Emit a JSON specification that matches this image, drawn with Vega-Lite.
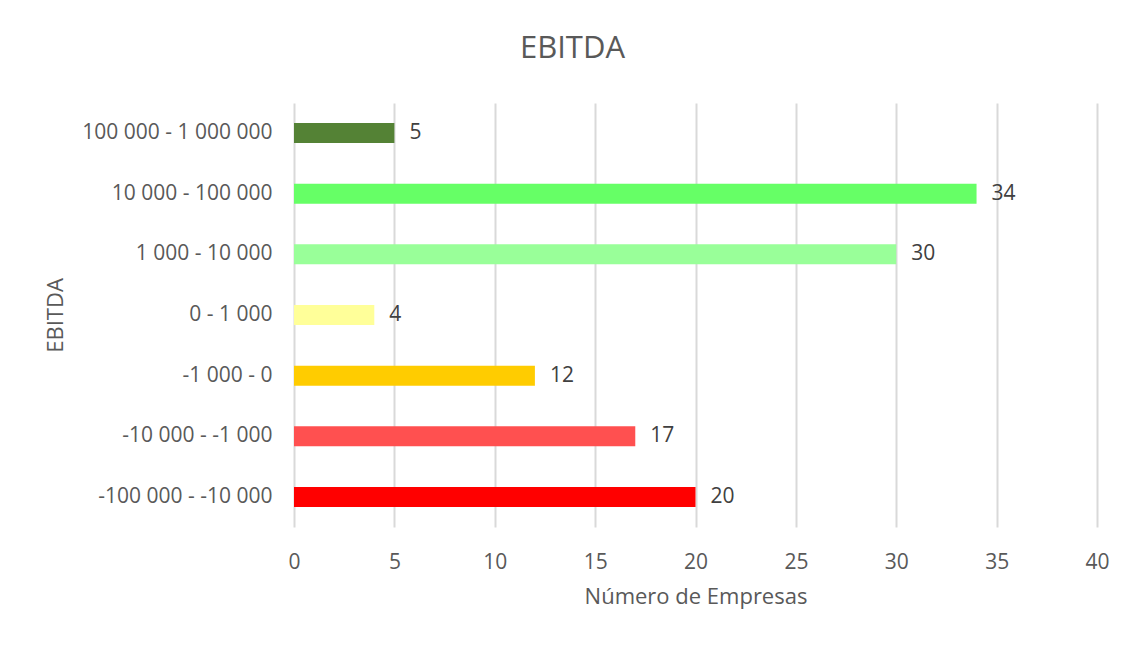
{
  "$schema": "https://vega.github.io/schema/vega-lite/v6.json",
  "width": 803,
  "height": 424,
  "autosize": {"type": "none"},
  "padding": {"left": 294, "top": 103, "right": 42, "bottom": 118},
  "background": "white",
  "title": {
    "text": "EBITDA",
    "fontSize": 31,
    "font": "Open Sans",
    "fontWeight": "normal",
    "color": "#595959",
    "anchor": "middle",
    "dx": -123,
    "offset": 38
  },
  "data": {
    "values": [
      {"range": "100 000 - 1 000 000", "count": 5, "color": "#548235"},
      {"range": "10 000 - 100 000", "count": 34, "color": "#66FF66"},
      {"range": "1 000 - 10 000", "count": 30, "color": "#99FF99"},
      {"range": "0 - 1 000", "count": 4, "color": "#FFFF99"},
      {"range": "-1 000 - 0", "count": 12, "color": "#FFCC00"},
      {"range": "-10 000 - -1 000", "count": 17, "color": "#FF5050"},
      {"range": "-100 000 - -10 000", "count": 20, "color": "#FF0000"}
    ]
  },
  "encoding": {
    "y": {
      "field": "range",
      "type": "nominal",
      "sort": null,
      "scale": {"paddingInner": 0.67, "paddingOuter": 0.33},
      "axis": {
        "title": "EBITDA",
        "titleFont": "Open Sans",
        "titleFontSize": 22,
        "titleFontWeight": "normal",
        "titleColor": "#595959",
        "titleX": -227,
        "labelFont": "Open Sans",
        "labelFontSize": 21,
        "labelColor": "#595959",
        "labelPadding": 22,
        "labelLimit": 300,
        "ticks": false,
        "domain": false
      }
    },
    "x": {
      "field": "count",
      "type": "quantitative",
      "scale": {"domain": [0, 40]},
      "axis": {
        "title": "Número de Empresas",
        "titleFont": "Open Sans",
        "titleFontSize": 22,
        "titleFontWeight": "normal",
        "titleColor": "#595959",
        "titlePadding": 14,
        "labelFont": "Open Sans",
        "labelFontSize": 21,
        "labelColor": "#595959",
        "labelPadding": 24,
        "labelFlush": false,
        "values": [0, 5, 10, 15, 20, 25, 30, 35, 40],
        "ticks": false,
        "domain": false,
        "grid": true,
        "gridColor": "#D9D9D9",
        "gridWidth": 2
      }
    }
  },
  "layer": [
    {
      "mark": {"type": "bar"},
      "encoding": {
        "color": {"field": "color", "type": "nominal", "scale": null}
      }
    },
    {
      "mark": {"type": "text", "align": "left", "dx": 15, "font": "Open Sans", "fontSize": 21, "color": "#404040"},
      "encoding": {
        "text": {"field": "count", "type": "quantitative"}
      }
    }
  ],
  "config": {
    "view": {"stroke": null},
    "axisY": {"grid": false}
  }
}
